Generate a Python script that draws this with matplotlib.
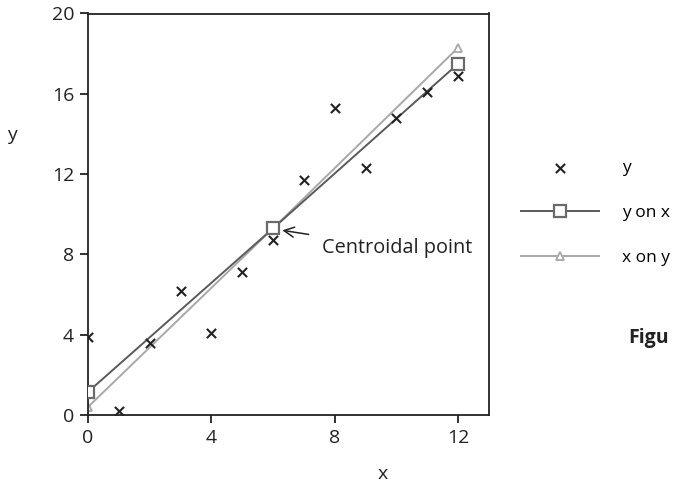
import matplotlib
matplotlib.use("Agg")
from matplotlib import pyplot as plt

plt.rcParams['font.family'] = ['Open Sans', 'DejaVu Sans']

# scatter data
x_pts = [0, 1, 2, 3, 4, 5, 6, 7, 8, 9, 10, 11, 12]
y_pts = [3.9, 0.2, 3.6, 6.2, 4.1, 7.1, 8.7, 11.7, 15.3, 12.3, 14.8, 16.1, 16.9]

# regression lines (end points + centroid)
yx_x = [0, 6, 12]
yx_y = [1.15, 9.3, 17.5]
xy_x = [0, 6, 12]
xy_y = [0.4, 9.3, 18.3]

fig = plt.figure(figsize=(6.75, 4.82), dpi=100)
ax = fig.add_axes([88 / 675, 1 - 415 / 482, 401 / 675, 401.5 / 482])

ink = "#222222"
ax.plot(xy_x, xy_y, color="#a8a8a8", lw=1.4, marker="^", markevery=[0, 2],
        ms=6, mfc="white", mec="#a8a8a8", mew=1.3, label="x on y", zorder=2)
ax.plot(yx_x, yx_y, color="#5a5a5a", lw=1.4, marker="s", ms=9,
        mfc="white", mec="#6a6a6a", mew=1.6, label="y on x", zorder=3)
ax.scatter(x_pts, y_pts, marker="x", s=44, color=ink, lw=1.5, label="y", zorder=4)

ax.annotate("Centroidal point", xy=(6.3, 9.2), xytext=(7.6, 8.3),
            fontsize=14.3, color=ink, va="center", ha="left",
            arrowprops=dict(arrowstyle="->", color=ink, lw=1.1,
                            shrinkA=8, shrinkB=0, mutation_scale=18))

ax.set_xlim(0, 13)
ax.set_ylim(0, 20)
ax.set_xticks([0, 4, 8, 12])
ax.set_yticks([0, 4, 8, 12, 16, 20])
ax.tick_params(direction="out", length=6, width=1.3, colors=ink,
               labelsize=14, pad=4)
for s in ax.spines.values():
    s.set_linewidth(1.3)
    s.set_color(ink)

fig.text(12 / 675, 1 - 135 / 482, "y", fontsize=14, color=ink,
         ha="center", va="center")
fig.text(383 / 675, 1 - 474 / 482, "x", fontsize=14, color=ink,
         ha="center", va="center")

handles, labels = ax.get_legend_handles_labels()
order = [2, 1, 0]
ax.legend([handles[i] for i in order], [labels[i] for i in order],
          loc="upper left", bbox_to_anchor=(521 / 675, 1 - 160 / 482),
          bbox_transform=fig.transFigure, frameon=False, fontsize=12.5,
          handlelength=4.5, handletextpad=1.3, labelspacing=1.65,
          borderaxespad=0, borderpad=0)

# caption cut off at the right edge in the source image
fig.text(628 / 675, 1 - 338 / 482, "Figu", fontsize=14, fontweight="bold",
         color=ink, ha="left", va="center")

fig.savefig("out.png", dpi=100)
